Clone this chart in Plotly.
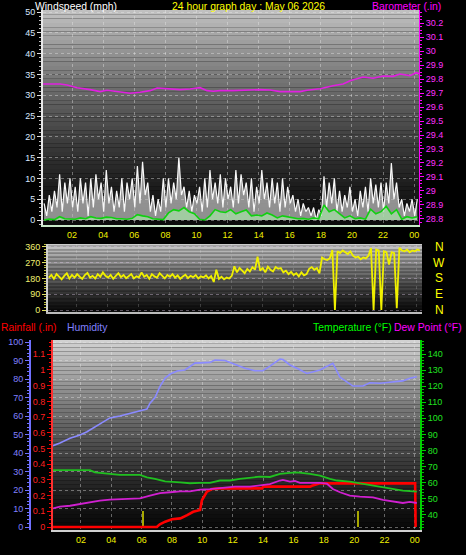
import plotly.graph_objects as go

W, H = 466, 555

# ---------------- data ----------------
hour_ticks = [2, 4, 6, 8, 10, 12, 14, 16, 18, 20, 22, 24]
hour_labels = ['02', '04', '06', '08', '10', '12', '14', '16', '18', '20', '22', '00']

# 10-minute samples
wind_t = [round(0.2 + i / 6, 3) for i in range(145)]
gust_mph = [4, 1, 6, 2, 7, 3,
            11, 2, 9, 4, 10, 3,
            8, 2, 10, 4, 9, 1,
            10, 3, 11, 5, 9, 2,
            12, 4, 8, 2, 7, 3,
            10, 2, 9, 5, 10, 3,
            13, 4, 14, 6, 9, 2,
            6, 1, 5, 2, 10, 3,
            10, 4, 9, 5, 15, 6,
            8, 3, 7, 2, 6, 4,
            8, 2, 10, 3, 12, 5,
            9, 4, 11, 3, 10, 5,
            8, 3, 12, 4, 11, 6,
            9, 3, 10, 2, 8, 4,
            12, 5, 9, 3, 10, 4,
            9, 2, 10, 3, 8, 4,
            6, 2, 5, 1, 4, 2,
            3, 1, 3, 0, 2.5, 1,
            10.5, 3, 9, 4, 10, 2,
            7, 2, 6, 3, 8, 2,
            5, 1, 7, 3, 8, 2,
            10, 4, 8.5, 3, 9, 2,
            9, 4, 13.7, 5, 9, 3,
            5, 1, 4, 2, 5, 1,
            5]

# 20-minute samples
avg_t = [round(0.2 + i / 3, 3) for i in range(73)]
avg_mph = [0, 0.2, 0.1, 0.8, 0.3, 0.2, 0.2, 0.5, 0.3, 0.8, 0.5, 0.4,
           0.7, 0.6, 0.3, 0.3, 0.2, 0.4, 1.3, 1.0, 0.8, 0.3, 0.2, 0.1,
           1.7, 2.5, 2.2, 3.0, 2.0, 1.5, 0.2, 0.0, 1.0, 2.5, 2.0, 1.8,
           2.5, 1.5, 2.0, 2.4, 1.0, 1.2, 1.0, 1.7, 1.2, 0.5, 1.0, 0.8,
           0.5, 0.3, 0.4, 0.2, 0.5, 0.3, 3.6, 2.0, 2.5, 1.5, 0.5, 1.0,
           0.3, 0.5, 0.2, 2.6, 1.5, 2.0, 3.3, 1.5, 2.5, 0.2, 0.8, 0.5,
           0.8]

baro_t = [0.13, 0.59, 1.23, 1.68, 2.32, 3.16, 3.80, 4.25, 4.89, 5.73, 6.37, 7.02,
          7.47, 8.11, 8.95, 9.59, 10.23, 10.68, 11.07, 11.52, 12.35, 14.09, 14.73,
          15.38, 16.66, 17.11, 17.95, 18.78, 19.43, 19.88, 20.33, 20.71, 21.36,
          22.00, 22.64, 23.09, 23.73, 24.12, 24.31]
baro_in = [29.764, 29.766, 29.764, 29.757, 29.738, 29.724, 29.710, 29.720, 29.711,
           29.698, 29.705, 29.717, 29.736, 29.731, 29.724, 29.729, 29.738, 29.717,
           29.712, 29.717, 29.717, 29.724, 29.721, 29.710, 29.710, 29.720, 29.730,
           29.752, 29.764, 29.788, 29.805, 29.814, 29.805, 29.821, 29.819, 29.836,
           29.824, 29.845, 29.838]

dir_t = wind_t
dir_deg = [185, 200, 178, 205, 190, 175,
           195, 210, 180, 200, 185, 205,
           190, 178, 200, 212, 185, 195,
           180, 205, 190, 215, 195, 185,
           200, 178, 195, 210, 188, 200,
           182, 196, 205, 180, 192, 186,
           215, 190, 200, 178, 205, 192,
           185, 210, 195, 180, 200, 190,
           205, 185, 198, 178, 192, 202,
           182, 195, 188, 200, 180, 192,
           186, 198, 180, 194, 160, 230,
           178, 190, 175, 185, 180, 195,
           250, 215, 240, 225, 210, 235,
           220, 245, 230, 305, 225, 240,
           215, 248, 230, 220, 245, 235,
           240, 215, 225, 205, 218, 200,
           210, 192, 215, 198, 205, 235,
           245, 230, 240, 210, 300, 290,
           285, 295, 342, 0, 335, 325,
           340, 330, 320, 335, 310, 300,
           305, 290, 300, 295, 310, 354,
           0, 345, 340, 0, 335, 330,
           260, 330, 325, 10, 355, 340,
           335, 345, 330, 340, 335, 345,
           340]

hum_t = [0.16, 0.62, 1.28, 1.94, 2.40, 2.92, 3.25, 3.91, 4.57, 5.23, 5.89, 6.35,
         6.55, 6.88, 7.21, 7.55, 7.88, 8.34, 8.85, 9.51, 10.50, 10.83, 11.49, 11.82,
         12.28, 12.81, 13.47, 13.99, 14.45, 15.11, 15.31, 15.77, 16.23, 16.89, 17.75,
         18.41, 18.60, 19.07, 19.53, 19.92, 20.58, 21.04, 21.70, 22.56, 23.21, 23.67,
         24.13]
hum_pct = [44, 45.4, 48, 49.7, 51.5, 54, 56, 59, 60, 61.5, 63, 63.8,
           67, 70, 76, 80.5, 82.7, 84.3, 84.9, 88.6, 89, 90.3, 90, 89,
           87.6, 85.8, 84.5, 84.5, 87, 90.8, 90.5, 87.6, 85.8, 83, 84.9,
           88, 88.5, 81, 78.5, 76.2, 76.2, 78, 77.7, 78.5, 79, 80.4,
           81.2]

temp_t = [0.16, 2.60, 2.92, 3.91, 4.57, 5.89, 6.35, 6.88, 7.55, 8.54, 9.18, 9.84,
          10.50, 11.16, 11.82, 12.48, 13.79, 14.45, 15.11, 15.77, 16.23, 17.09,
          17.75, 18.41, 18.87, 19.72, 20.58, 21.24, 21.90, 22.56, 23.21, 24.13]
temp_f = [67.8, 67.8, 66.4, 65.4, 64.8, 64.8, 63.3, 62.3, 60.8, 60.2, 59.6, 59.8,
          59.8, 61.3, 61.3, 62.3, 63.75, 63.5, 65.4, 66, 66.4, 65.4,
          64.4, 62.3, 61.3, 60.6, 59.2, 58.1, 57, 56, 55, 54.4]

dew_t = [0.16, 0.62, 1.28, 1.94, 2.60, 3.25, 3.91, 4.57, 5.23, 5.89, 6.55, 7.21,
         7.88, 8.54, 9.18, 9.84, 10.50, 11.16, 12.15, 13.14, 13.99, 14.45, 15.11,
         15.31, 15.77, 16.10, 16.43, 17.75, 18.21, 18.60, 19.07, 19.72, 20.38,
         21.24, 21.90, 22.56, 23.21, 23.67, 24.13]
dew_f = [43.9, 45, 45.6, 46.7, 47.7, 48.75, 49.4, 49.8, 49.8, 50.2, 51.9, 53.5,
         54, 54.6, 54.6, 55.6, 56, 56.7, 57.5, 57.5, 58.5, 59, 61.3,
         61.7, 60.6, 61, 59.8, 59.8, 59.3, 56, 54, 51.9, 51.25,
         50.8, 49.2, 48.3, 47.3, 48, 47.3]

rain_t = [0.16, 7.0, 7.2, 7.55, 8.0, 8.55, 9.0, 9.4, 9.85, 9.97, 10.3, 10.63,
          11.16, 13.95, 14.0, 17.1, 17.22, 17.75, 24.02, 24.05]
rain_in = [0, 0, 0.017, 0.034, 0.049, 0.055, 0.076, 0.097, 0.108, 0.17, 0.225, 0.242,
           0.246, 0.246, 0.257, 0.257, 0.263, 0.278, 0.278, 0]

rate_t = [6.09, 20.25]
rate_in = [0.1, 0.1]

# ---------------- figure ----------------
FONT = 'Liberation Sans, Arial, sans-serif'
fig = go.Figure()

fig.add_trace(go.Scatter(x=wind_t, y=gust_mph, xaxis='x', yaxis='y', mode='lines',
                         line=dict(color='#f8f8f8', width=1.2), fill='tozeroy',
                         fillcolor='rgba(200,200,200,0.7)', showlegend=False))
fig.add_trace(go.Scatter(x=avg_t, y=avg_mph, xaxis='x', yaxis='y', mode='lines',
                         line=dict(color='#10d010', width=1.6), fill='tozeroy',
                         fillcolor='rgba(170,235,170,0.65)', showlegend=False))
fig.add_trace(go.Scatter(x=baro_t, y=baro_in, xaxis='x', yaxis='y2', mode='lines',
                         line=dict(color='#e020e0', width=1.6), showlegend=False))

fig.add_trace(go.Scatter(x=dir_t, y=dir_deg, xaxis='x2', yaxis='y3', mode='lines',
                         line=dict(color='#f0f000', width=1.8), showlegend=False))

fig.add_trace(go.Bar(x=rate_t, y=rate_in, xaxis='x3', yaxis='y4', width=0.13,
                     marker=dict(color='#a8a800', line=dict(width=0)), showlegend=False))
fig.add_trace(go.Scatter(x=hum_t, y=hum_pct, xaxis='x3', yaxis='y5', mode='lines',
                         line=dict(color='#8a8aff', width=1.6), showlegend=False))
fig.add_trace(go.Scatter(x=temp_t, y=temp_f, xaxis='x3', yaxis='y6', mode='lines',
                         line=dict(color='#20c020', width=1.8), showlegend=False))
fig.add_trace(go.Scatter(x=dew_t, y=dew_f, xaxis='x3', yaxis='y6', mode='lines',
                         line=dict(color='#d020d0', width=1.8), showlegend=False))
fig.add_trace(go.Scatter(x=rain_t, y=rain_in, xaxis='x3', yaxis='y4', mode='lines',
                         line=dict(color='#ff0000', width=2.6), showlegend=False))


def px_x(p):
    return p / W


def px_y(p):
    return 1 - p / H


grid = 'rgba(235,235,235,0.4)'
tickf = dict(family=FONT, size=9)


def xax(domain, anchor, rng, labels=True, linecolor='#c0c0c0', gridcolor=grid):
    return dict(domain=domain, anchor=anchor, range=rng, tickvals=hour_ticks,
                ticktext=hour_labels, showticklabels=labels, automargin=False,
                tickfont=dict(tickf, color='#f0f000'), ticks='', showgrid=True,
                gridcolor=gridcolor, griddash='dot', gridwidth=1, zeroline=False,
                showline=True, linecolor=linecolor, linewidth=2, mirror=False)


layout = dict(
    width=W, height=H, margin=dict(l=0, r=0, t=0, b=0, pad=0, autoexpand=False),
    paper_bgcolor='#000000', plot_bgcolor='#000000',
    bargap=0, barmode='overlay', hovermode=False,
    font=dict(family=FONT, color='#ffffff'),
    xaxis=xax([px_x(43), px_x(419)], 'y', [0.13, 24.31], linecolor='#c8e8c8'),
    xaxis2=xax([px_x(48), px_x(422)], 'y3', [0.15, 24.33], labels=False, linecolor='#bbbbbb',
               gridcolor='rgba(235,235,235,0.2)'),
    xaxis3=xax([px_x(53), px_x(420)], 'y4', [0.16, 24.34], linecolor='#d0d0d0'),
    yaxis=dict(domain=[px_y(225), px_y(10)], anchor='x', range=[-1.2, 50.5], dtick=5,
               automargin=False,
               tickfont=dict(tickf, color='#d8e8ff'), ticks='outside', ticklen=4,
               tickcolor='#e0e0e0', minor=dict(ticks='outside', ticklen=2, dtick=1, tickcolor='#c0c0c0'),
               showline=True, linecolor='#e8e8e8', linewidth=2, showgrid=True,
               gridcolor=grid, griddash='dot', zeroline=False),
    yaxis2=dict(overlaying='y', side='right', anchor='x', range=[28.757, 30.293], dtick=0.1,
                automargin=False,
                tickfont=dict(tickf, color='#ff30ff'), ticks='outside', ticklen=4,
                tickcolor='#ff00ff', minor=dict(ticks='outside', ticklen=2, dtick=0.025, tickcolor='#ff00ff'),
                showline=True, linecolor='#ff00ff', linewidth=1, showgrid=False, zeroline=False),
    yaxis3=dict(domain=[px_y(312), px_y(244)], anchor='x2', range=[-11.4, 377],
                automargin=False,
                tickvals=[0, 90, 180, 270, 360], tickfont=dict(tickf, color='#f0f070'),
                ticks='outside', ticklen=4, tickcolor='#e0e060',
                minor=dict(ticks='outside', ticklen=2, dtick=15, tickcolor='#c0c040'),
                showline=True, linecolor='#d0d0d0', linewidth=2, showgrid=True,
                gridcolor='rgba(220,200,230,0.4)', griddash='dot', zeroline=False),
    yaxis4=dict(domain=[px_y(530), px_y(340)], anchor='x3', range=[-0.019, 1.191], dtick=0.1,
                automargin=False,
                tickfont=dict(tickf, color='#ff2020'), ticks='outside', ticklen=4,
                tickcolor='#ff0000', minor=dict(ticks='outside', ticklen=2, dtick=0.025, tickcolor='#ff0000'),
                showline=True, linecolor='#ff3030', linewidth=2, showgrid=False, zeroline=False),
    yaxis5=dict(overlaying='y4', side='left', anchor='free', position=px_x(30),
                automargin=False,
                range=[-1.6, 101.1], dtick=10, tickfont=dict(tickf, color='#8080ff'),
                ticks='outside', ticklen=4, tickcolor='#7070ff',
                minor=dict(ticks='outside', ticklen=2, dtick=2, tickcolor='#7070ff'),
                showline=True, linecolor='#7070ff', linewidth=2, showgrid=True,
                gridcolor=grid, griddash='dot', zeroline=False),
    yaxis6=dict(overlaying='y4', side='right', anchor='x3', range=[30.5, 148.75], dtick=10,
                automargin=False,
                tick0=0, tickfont=dict(tickf, color='#20e020'), ticks='outside', ticklen=4,
                tickcolor='#00d000', minor=dict(ticks='outside', ticklen=2, dtick=2, tickcolor='#00c000'),
                showline=True, linecolor='#00d000', linewidth=2, showgrid=False, zeroline=False),
)

# vertical gradient backgrounds (styling only)
shapes = []


def gradient(xref, yref, top, bot, n=50, gamma=1.3):
    for k in range(n):
        f0, f1 = k / n, (k + 1) / n
        v = int(round(bot + (top - bot) * ((f0 + f1) / 2) ** gamma))
        shapes.append(dict(type='rect', xref=xref, yref=yref, x0=0, x1=1, y0=f0, y1=f1,
                           fillcolor='rgb(%d,%d,%d)' % (v, v, v), line=dict(width=0),
                           layer='below'))


gradient('x domain', 'y domain', 195, 12, gamma=1.4)
gradient('x2 domain', 'y3 domain', 205, 10, gamma=1.2)
gradient('x3 domain', 'y4 domain', 212, 8, gamma=1.35)
layout['shapes'] = shapes

ann = []


def label(text, x, y, color, size=10.4, xanchor='left'):
    ann.append(dict(text=text, x=px_x(x), y=px_y(y), xref='paper', yref='paper',
                    xanchor=xanchor, yanchor='middle', showarrow=False, borderpad=0,
                    font=dict(family=FONT, size=size, color=color)))


label('Windspeed (mph)', 34, 7, '#ffffff')
label('24 hour graph day : May 06 2026', 171, 7, '#ffff00')
label('Barometer (.in)', 371, 7, '#ff00ff')
label('Rainfall (.in)', 0, 327, '#ff0000')
label('Humidity', 66, 327, '#8080ff')
label('Temperature (°F)', 312, 327, '#00ff00')
label('Dew Point (°F)', 393, 327, '#ff00ff')

for d, t in zip([360, 270, 180, 90, 0], ['N', 'W', 'S', 'E', 'N']):
    ann.append(dict(text=t, x=px_x(439), y=d, xref='paper', yref='y3', xanchor='center',
                    yanchor='middle', showarrow=False,
                    font=dict(family=FONT, size=12, color='#ffff00')))

layout['annotations'] = ann
fig.update_layout(**layout)
fig.write_html('out.html', config={'displayModeBar': False, 'staticPlot': True},
               post_script="document.body.style.margin='0';document.body.style.background='#000';")
